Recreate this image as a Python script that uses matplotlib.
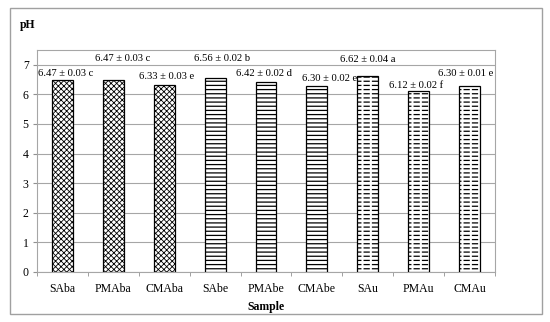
import matplotlib.pyplot as plt
from matplotlib.patches import Rectangle

samples = ["SAba", "PMAba", "CMAba", "SAbe", "PMAbe", "CMAbe", "SAu", "PMAu", "CMAu"]
ph = [6.47, 6.47, 6.33, 6.56, 6.42, 6.30, 6.62, 6.12, 6.30]
sd = [0.03, 0.03, 0.03, 0.02, 0.02, 0.02, 0.04, 0.02, 0.01]
letters = ["c", "c", "e", "b", "d", "e", "a", "f", "e"]
groups = [0, 0, 0, 1, 1, 1, 2, 2, 2]

# where each label sits (offset from bar centre, height in pH units)
lab_dx = [0.06, 0.18, 0.04, 0.14, -0.04, 0.24, 0.0, -0.06, -0.08]
lab_y = [6.69, 7.20, 6.59, 7.20, 6.69, 6.55, 7.17, 6.31, 6.72]

plt.rcParams["font.family"] = ["Liberation Serif", "DejaVu Serif"]

fig = plt.figure(figsize=(5.5, 3.22), dpi=100)
fig.patches.append(Rectangle((10 / 550, 8 / 322), 532 / 550, 306 / 322, transform=fig.transFigure,
                             fill=False, edgecolor="#a0a0a0", linewidth=1))
ax = fig.add_axes([37 / 550, 50 / 322, 458 / 550, 222 / 322])

x = list(range(len(samples)))
w = 0.41
hatches = ["xxxxxx", "----", "----"]
hatch_lw = [0.6, 0.9, 0.9]
for i in x:
    g = groups[i]
    plt.rcParams["hatch.linewidth"] = hatch_lw[g]
    ax.bar(i, ph[i], w, color="white", edgecolor="black", hatch=hatches[g], linewidth=0, zorder=3)
    if g == 2:
        # break the lines into dashes
        plt.rcParams["hatch.linewidth"] = 1.5
        ax.bar(i, ph[i], w, fill=False, edgecolor="white", hatch="||", linewidth=0, zorder=4)
    ax.bar(i, ph[i], w, fill=False, edgecolor="black", linewidth=0.9, zorder=5)
    ax.text(i + lab_dx[i], lab_y[i], f"{ph[i]:.2f} \u00b1 {sd[i]:.2f} {letters[i]}",
            ha="center", va="center", fontsize=7.7)

ax.set_xlim(-0.5, len(samples) - 0.5)
ax.set_ylim(0, 7.5)
ax.set_yticks(range(8))
ax.yaxis.grid(True, color="#a6a6a6", linewidth=0.8, zorder=0)
ax.set_xticks(x)
ax.set_xticklabels(samples, fontsize=8.5)
ax.set_xticks([i + 0.5 for i in range(-1, len(samples))], minor=True)
ax.tick_params(axis="x", which="major", length=0, pad=8)
ax.tick_params(axis="x", which="minor", length=3, color="#909090")
ax.tick_params(axis="y", labelsize=8.5, length=3, color="#909090", pad=3)
for s in ["left", "bottom", "top", "right"]:
    ax.spines[s].set_color("#a6a6a6")
    ax.spines[s].set_linewidth(0.8)

fig.text(20 / 550, 1 - 25 / 322, "pH", fontsize=8.5, fontweight="bold", va="center")
ax.set_xlabel("Sample", fontsize=8.5, fontweight="bold", labelpad=4)

fig.savefig("out.png", dpi=100)
